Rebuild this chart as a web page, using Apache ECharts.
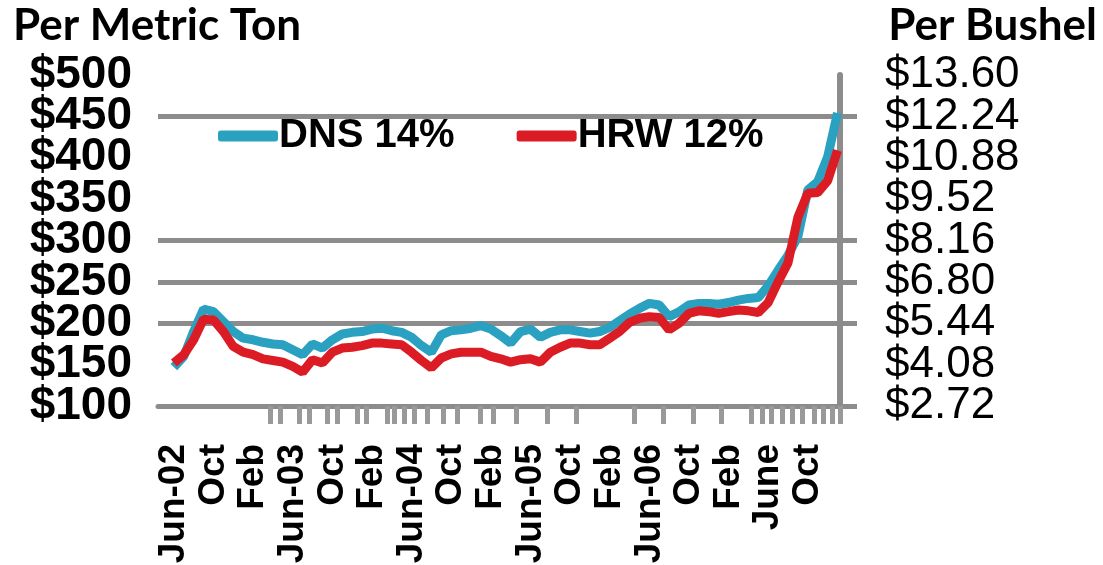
<!DOCTYPE html>
<html>
<head>
<meta charset="utf-8">
<script src="https://cdn.jsdelivr.net/npm/echarts@6/dist/echarts.min.js"></script>
<style>
html,body{margin:0;padding:0;background:#fff;}
#chart{width:1103px;height:565px;}
</style>
</head>
<body>
<div id="chart"></div>
<script>
// Months Jun-02 .. Jan-08 (index 0..67)
var months = ['Jun-02','Jul-02','Aug-02','Sep-02','Oct-02','Nov-02','Dec-02',
  'Jan-03','Feb-03','Mar-03','Apr-03','May-03','Jun-03','Jul-03','Aug-03','Sep-03','Oct-03','Nov-03','Dec-03',
  'Jan-04','Feb-04','Mar-04','Apr-04','May-04','Jun-04','Jul-04','Aug-04','Sep-04','Oct-04','Nov-04','Dec-04',
  'Jan-05','Feb-05','Mar-05','Apr-05','May-05','Jun-05','Jul-05','Aug-05','Sep-05','Oct-05','Nov-05','Dec-05',
  'Jan-06','Feb-06','Mar-06','Apr-06','May-06','Jun-06','Jul-06','Aug-06','Sep-06','Oct-06','Nov-06','Dec-06',
  'Jan-07','Feb-07','Mar-07','Apr-07','May-07','Jun-07','Jul-07','Aug-07','Sep-07','Oct-07','Nov-07','Dec-07',
  'Jan-08'];

// DNS 14% ($/metric ton)
var dns = [147,160,190,217,214,202,190,182,180,177,175,174,168,162,175,170,180,187,189,190,193,194,191,189,
  183,173,165,186,191,192,194,197,193,185,176,190,193,183,189,192,192,190,188,190,195,203,211,218,
  224,222,208,214,222,224,224,223,225,228,230,231,245,264,282,305,361,371,401,454];

// HRW 12% ($/metric ton)
var hrw = [152,162,180,205,204,190,172,165,162,157,155,153,148,141,156,152,165,170,171,173,176,176,175,174,
  165,155,146,158,163,165,165,165,160,157,153,156,157,153,165,171,176,176,174,174,182,190,201,206,
  208,207,192,200,212,215,214,212,214,216,215,213,225,250,273,328,357,358,372,409];

// Axis texts
var xLabelMonths = [0,4,8,12,16,20,24,28,32,36,40,44,48,52,56,60,64];
var xLabels = ['Jun-02','Oct','Feb','Jun-03','Oct','Feb','Jun-04','Oct','Feb','Jun-05','Oct','Feb','Jun-06','Oct','Feb','June','Oct'];
var xTickPos = [9.7,10.7,12.7,13.7,15.5,16.5,18.5,19.4,21.5,22.3,23.3,24.3,25.6,27.2,28.6,30.9,32.2,34.6,37.7,40.6,
  46.5,49.4,52.4,55.3,58.3,59.4,60.3,61.4,62.4,63.4,64.6,65.6,66.5,67.25];
var yTickValues = [100,150,200,250,300,350,400,450,500];
var leftLabels = ['$100','$150','$200','$250','$300','$350','$400','$450','$500'];
var rightLabels = ['$2.72','$4.08','$5.44','$6.80','$8.16','$9.52','$10.88','$12.24','$13.60'];
var gridValues = [100,200,250,300,450];

var GRAY = '#8c8c8c';
var SANS = "'Liberation Sans',Arial,sans-serif";

// label sets split so neighbouring labels never collide in the overlap check
var evenVals = yTickValues.filter(function(v,i){return i % 2 === 0;});
var oddVals = yTickValues.filter(function(v,i){return i % 2 === 1;});

function leftAxis(vals, withGrid) {
  return {type:'value', min:100, max:500, position:'left',
    axisLine:{show:false},
    axisTick:{show:false, customValues:gridValues},
    splitLine:{show:withGrid, lineStyle:{color:GRAY, width:5}},
    axisLabel:{customValues:vals, formatter:function(v){return leftLabels[yTickValues.indexOf(v)];},
      showMinLabel:true, showMaxLabel:true, hideOverlap:false,
      fontFamily:SANS, fontWeight:'bold', fontSize:46, color:'#000', margin:26}};
}
function rightAxis(vals, withLine) {
  return {type:'value', min:100, max:500, position:'right',
    axisLine:{show:withLine, lineStyle:{color:GRAY, width:6}},
    axisTick:{show:withLine, customValues:gridValues, length:17, lineStyle:{color:GRAY, width:5}},
    splitLine:{show:false},
    axisLabel:{customValues:vals, formatter:function(v){return rightLabels[yTickValues.indexOf(v)];},
      showMinLabel:true, showMaxLabel:true, hideOverlap:false,
      fontFamily:SANS, fontSize:44, color:'#000', margin:45}};
}

var chart = echarts.init(document.getElementById('chart'), null, {renderer:'canvas'});
chart.setOption({
  animation: false,
  backgroundColor: '#fff',
  title: [
    {text:'Per Metric Ton', left:8, top:-1, textStyle:{fontFamily:'Lato', fontWeight:'bold', fontSize:44, color:'#000'}},
    {text:'Per Bushel', right:1, top:-1, textStyle:{fontFamily:'Lato', fontWeight:'bold', fontSize:44, color:'#000'}}
  ],
  legend: {
    left: 213, top: 111,
    icon: 'roundRect', itemWidth: 60, itemHeight: 11, itemGap: 62,
    textStyle: {fontFamily: SANS, fontWeight:'bold', fontSize:40, color:'#000', padding:[0,0,0,-4]},
    data: ['DNS 14%','HRW 12%']
  },
  grid: {left:158, right:263, top:75, bottom:159, containLabel:false, outerBoundsMode:'none'},
  xAxis: {
    type:'value', min:-1.6, max:67.25,
    axisLine:{show:true, lineStyle:{color:GRAY, width:5}},
    axisTick:{show:true, customValues:xTickPos, length:18, lineStyle:{color:'#999', width:5}},
    splitLine:{show:false},
    axisLabel:{customValues:xLabelMonths, rotate:90, margin:38, showMinLabel:true, showMaxLabel:true, hideOverlap:false,
      formatter:function(v){ return xLabels[xLabelMonths.indexOf(v)]; },
      fontFamily:SANS, fontWeight:'bold', fontSize:37, lineHeight:34, color:'#000'}
  },
  yAxis: [
    leftAxis(evenVals, true),
    leftAxis(oddVals, false),
    rightAxis(evenVals, true),
    rightAxis(oddVals, false)
  ],
  series: [
    {name:'DNS 14%', type:'line', yAxisIndex:0, showSymbol:false, symbol:'none', color:'#2aa1c1',
     lineStyle:{width:9, color:'#2aa1c1'},
     data: months.map(function(m,i){return [i, dns[i]];})},
    {name:'HRW 12%', type:'line', yAxisIndex:0, showSymbol:false, symbol:'none', color:'#dc1c24',
     lineStyle:{width:9, color:'#dc1c24'},
     data: months.map(function(m,i){return [i, hrw[i]];})}
  ]
});
</script>
</body>
</html>
